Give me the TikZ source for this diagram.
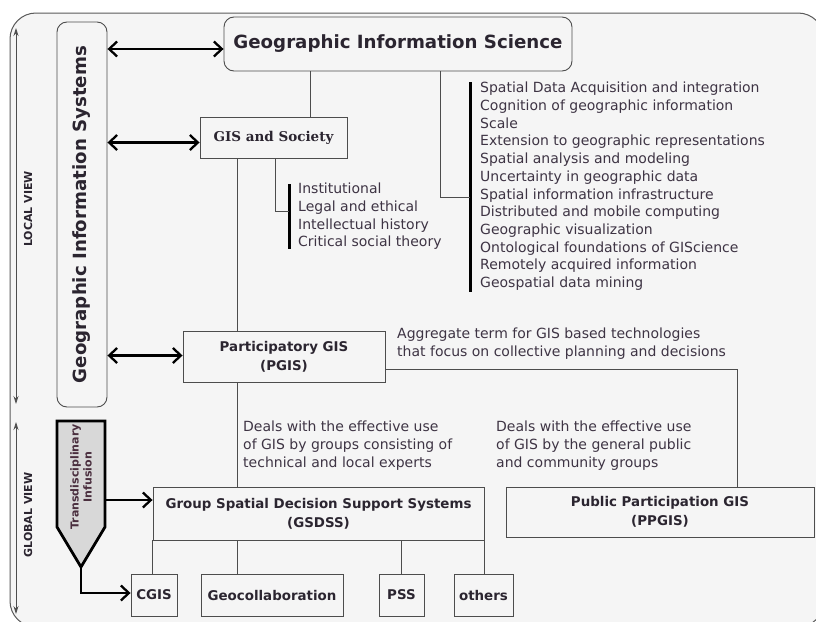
\documentclass[tikz,border=0pt]{standalone}
\usepackage{fontspec}
\setmainfont{DejaVu Sans}
\newfontfamily\serifbold{DejaVu Serif}
\usetikzlibrary{arrows.meta}
\definecolor{framefill}{HTML}{F5F5F5}
\definecolor{framedraw}{HTML}{5A5A5A}
\definecolor{boxdraw}{HTML}{4D4D4D}
\definecolor{bodytext}{HTML}{3E3444}
\definecolor{headtext}{HTML}{2B2530}
\definecolor{infusefill}{HTML}{D8D8D8}
\definecolor{infusetext}{HTML}{4A2E3E}
\begin{document}
\begin{tikzpicture}[x=1pt,y=-1pt,
  box/.style={draw=boxdraw, line width=0.9pt, inner sep=0pt, align=center, text=headtext,
    font=\fontsize{13.4}{19}\selectfont\bfseries},
  conn/.style={draw=boxdraw, line width=0.9pt},
  bar/.style={line width=3pt, black},
  bigarrow/.style={line width=2.3pt, black, -{Straight Barb[length=8pt,width=15pt]}},
  bothway/.style={line width=2.3pt, black,
    {Straight Barb[length=8pt,width=15pt]}-{Straight Barb[length=8pt,width=15pt]}},
  viewarrow/.style={line width=0.8pt, boxdraw, {Stealth[length=8pt,width=5pt]}-{Stealth[length=8pt,width=5pt]}},
  viewlabel/.style={rotate=90, inner sep=0pt, font=\fontsize{11}{13}\selectfont\bfseries, text=headtext},
  listtext/.style={anchor=north west, inner sep=0pt, align=left, text=bodytext,
    font=\fontsize{14}{17.7}\selectfont},
]
\clip (0,0) rectangle (816,621);
\fill[white] (0,0) rectangle (816,621);
% outer panel
\draw[framedraw, fill=framefill, line width=1pt, rounded corners=26pt] (10,13) rectangle (824,627);

% helper columns
\coordinate (xa) at (310,0);
\coordinate (xb) at (440,0);
\coordinate (xc) at (275,0);
\coordinate (xspine) at (237,0);
\coordinate (xd) at (737,0);

% view scale on the left
\coordinate (lvtop) at (16,28);
\coordinate (lvbot) at (16,404);
\coordinate (gvtop) at (16,422);
\coordinate (gvbot) at (16,614);
\draw[viewarrow] (lvtop) -- (lvbot);
\draw[viewarrow] (gvtop) -- (gvbot);
\node[viewlabel] (localview) at (28,209) {LOCAL VIEW};
\node[viewlabel] (globalview) at (28,515) {GLOBAL VIEW};

% main boxes
\node[box, rounded corners=10pt, minimum width=348pt, minimum height=54pt,
  font=\fontsize{18.2}{22}\selectfont\bfseries] (gisci) at (398,44) {Geographic Information Science};
\node[box, rounded corners=10pt, rotate=90, minimum width=385pt, minimum height=50pt,
  font=\fontsize{18.2}{22}\selectfont\bfseries] (gisys) at (82,214.5) {Geographic Information Systems};
\node[box, minimum width=147pt, minimum height=41pt, font=\fontsize{13.5}{16}\selectfont\serifbold\bfseries]
  (gissoc) at (273.5,137.5) {GIS and Society};
\node[box, minimum width=202pt, minimum height=51pt] (pgis) at (284,356.5) {Participatory GIS\\(PGIS)};
\node[box, minimum width=331pt, minimum height=53pt] (gsdss) at (318.5,513.5)
  {Group Spatial Decision Support Systems\\(GSDSS)};
\node[box, minimum width=308pt, minimum height=50pt] (ppgis) at (660,512)
  {Public Participation GIS\\(PPGIS)};
\node[box, minimum width=46pt, minimum height=42pt] (cgis) at (154,595) {CGIS};
\node[box, minimum width=142pt, minimum height=42pt] (geo) at (272,595) {Geocollaboration};
\node[box, minimum width=45pt, minimum height=42pt] (pss) at (401.5,595) {PSS};
\node[box, minimum width=59pt, minimum height=42pt] (others) at (483.5,595) {others};

% research topics of GIScience
\coordinate (bar1top) at (470,82);
\coordinate (bar1bot) at (470,292);
\coordinate (bar1join) at (470,197);
\draw[bar] (bar1top) -- (bar1bot);
\node[listtext] (topics) at (480,82) {Spatial Data Acquisition and integration\\
Cognition of geographic information\\
Scale\\
Extension to geographic representations\\
Spatial analysis and modeling\\
Uncertainty in geographic data\\
Spatial information infrastructure\\
Distributed and mobile computing\\
Geographic visualization\\
Ontological foundations of GIScience\\
Remotely acquired information\\
Geospatial data mining};

% topics of GIS and Society
\coordinate (bar2top) at (289,184);
\coordinate (bar2bot) at (289,249);
\coordinate (bar2join) at (289,211);
\draw[bar] (bar2top) -- (bar2bot);
\node[listtext] (soctopics) at (298,183) {Institutional\\
Legal and ethical\\
Intellectual history\\
Critical social theory};

% annotations
\node[listtext] (aggregate) at (397,328) {Aggregate term for GIS based technologies\\
that focus on collective planning and decisions};
\node[listtext] (dealsgroup) at (243,421) {Deals with the effective use\\
of GIS by groups consisting of\\
technical and local experts};
\node[listtext] (dealspublic) at (496,421) {Deals with the effective use\\
of GIS by the general public\\
and community groups};

% tree connectors
\draw[conn] (gisci.south -| xa) -- (gissoc.north -| xa);
\draw[conn] (gisci.south -| xb) |- (bar1join);
\draw[conn] (gissoc.south -| xc) |- (bar2join);
\draw[conn] (gissoc.south -| xspine) -- (pgis.north -| xspine);
\draw[conn] (pgis.south -| xspine) -- (gsdss.north -| xspine);
\coordinate (pgisout) at ([yshift=-12.5pt]pgis.east);
\draw[conn] (pgisout) -| (ppgis.north -| xd);
\draw[conn] (gsdss.south west) -- (gsdss.south west |- cgis.north);
\draw[conn] (gsdss.south -| xspine) -- (geo.north -| xspine);
\draw[conn] (pss.north |- gsdss.south) -- (pss.north);
\draw[conn] (gsdss.south east) -- (gsdss.south east |- others.north);

% links from GIS to the three levels
\coordinate (l1) at ([yshift=-5pt]gisci.west);
\coordinate (l2) at ([yshift=-5pt]gissoc.west);
\coordinate (l3) at ([yshift=1pt]pgis.west);
\draw[bothway] (gisys.south |- l1) -- (l1);
\draw[bothway] (gisys.south |- l2) -- (l2);
\draw[bothway] (gisys.south |- l3) -- (l3);

% transdisciplinary infusion
\draw[black, line width=2.8pt, fill=infusefill, line join=miter]
  (57,421) -- (105,421) -- (105,527) -- (81,567) -- (57,527) -- cycle;
\node[rotate=90, inner sep=0pt, align=center, text=infusetext,
  font=\fontsize{11}{13}\selectfont\bfseries] (infuse) at (81,477) {Transdisciplinary\\Infusion};
\coordinate (inftip) at (81,567);
\coordinate (infright) at (105,500);
\draw[bigarrow] (infright) -- (gsdss.west |- infright);
\draw[bigarrow] (inftip) |- ([yshift=2pt]cgis.west);
\end{tikzpicture}
\end{document}
